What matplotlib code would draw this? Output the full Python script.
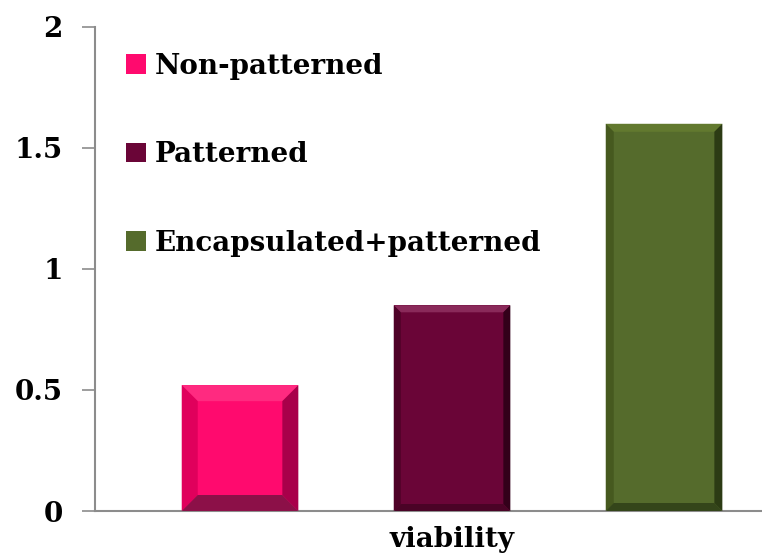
import matplotlib.pyplot as plt
from matplotlib.patches import Polygon, Patch

plt.rcParams["font.family"] = ["DejaVu Serif"]
plt.rcParams["font.weight"] = "bold"

category = 'viability'
series = ['Non-patterned', 'Patterned', 'Encapsulated+patterned']
values = [0.52, 0.85, 1.6]
yticks = [0, 0.5, 1, 1.5, 2]
yticklabels = ['0', '0.5', '1', '1.5', '2']

bar_colors = ['#ff0a6e', '#6a0537', '#556b2c']
side_colors = [
    # top, left, right, bottom
    ('#ff2a80', '#e0005c', '#a8004a', '#8c1048'),
    ('#8a2a5a', '#4f0228', '#33001a', '#4a0326'),
    ('#62792f', '#46591f', '#2c3b14', '#34451a'),
]
bevel_px = [16, 7, 8]

gray = '#8c8c8c'

fig = plt.figure(figsize=(7.62, 5.6), dpi=100)
ax = fig.add_axes([0.1247, 0.0875, 0.8753, 0.8643])

offsets = [-1, 0, 1]
width = 0.55
bars = ax.bar(offsets, values, width=width, color=bar_colors, edgecolor='none', zorder=2)

ax.set_xlim(-1.684, 1.462)
ax.set_ylim(0, 2)

# pixel -> data scale for bevel edges
xpp = (1.462 + 1.684) / (0.8753 * 762)
ypp = 2.0 / (0.8643 * 560)
for b, sc, bp in zip(bars, side_colors, bevel_px):
    x0, y0 = b.get_x(), b.get_y()
    x1, y1 = x0 + b.get_width(), y0 + b.get_height()
    dx, dy = bp * xpp, bp * ypp
    top = [(x0, y1), (x1, y1), (x1 - dx, y1 - dy), (x0 + dx, y1 - dy)]
    left = [(x0, y0), (x0, y1), (x0 + dx, y1 - dy), (x0 + dx, y0 + dy)]
    right = [(x1, y0), (x1, y1), (x1 - dx, y1 - dy), (x1 - dx, y0 + dy)]
    bottom = [(x0, y0), (x1, y0), (x1 - dx, y0 + dy), (x0 + dx, y0 + dy)]
    for poly, c in zip([top, left, right, bottom], sc):
        ax.add_patch(Polygon(poly, closed=True, facecolor=c, edgecolor='none', zorder=3))

for s in ['top', 'right']:
    ax.spines[s].set_visible(False)
for s in ['left', 'bottom']:
    ax.spines[s].set_color(gray)
    ax.spines[s].set_linewidth(1.5)

ax.set_yticks(yticks)
ax.set_yticklabels(yticklabels, fontsize=20, fontweight='bold')
ax.tick_params(axis='y', direction='out', length=9.4, width=1.2, color=gray, pad=14)
ax.set_xticks([0])
ax.set_xticklabels([category], fontsize=20, fontweight='bold')
ax.tick_params(axis='x', length=0, pad=11)

handles = [Patch(facecolor=c, edgecolor='none') for c in bar_colors]
ax.legend(handles, series, loc='upper left', bbox_to_anchor=(0.03, 0.97), frameon=False,
          prop={'weight': 'bold', 'size': 20}, labelspacing=2.22,
          handlelength=0.72, handleheight=0.72, handletextpad=0.3, borderaxespad=0)

fig.savefig('out.png', dpi=100)
